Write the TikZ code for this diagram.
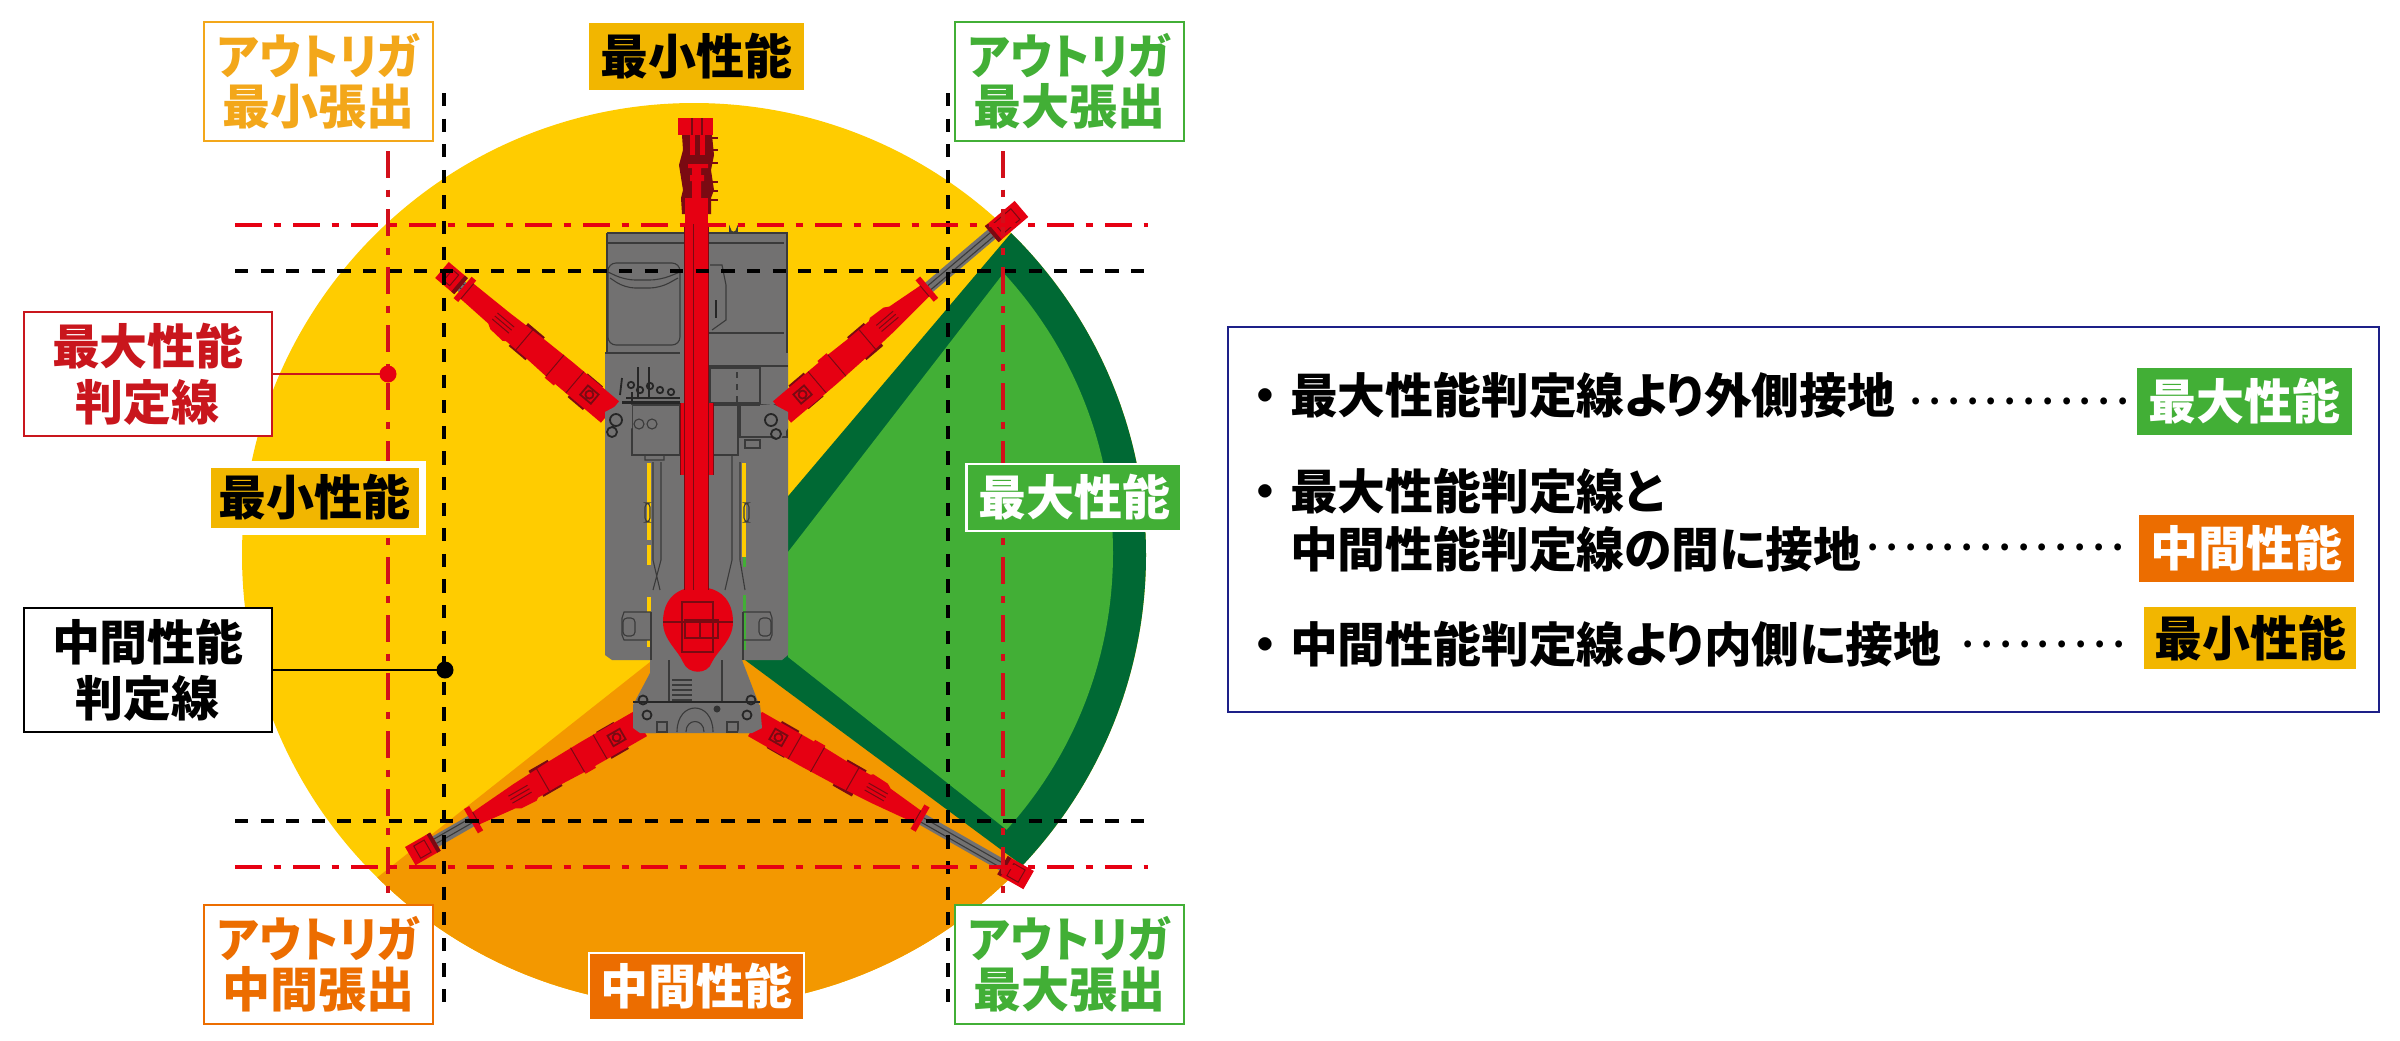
\documentclass[tikz,border=0pt]{standalone}
\usepackage{fontspec}
\setmainfont{Noto Sans CJK JP}[RawFeature={+palt}]
\definecolor{cyel}{HTML}{FFCC00}
\definecolor{corg}{HTML}{F39800}
\definecolor{cdg}{HTML}{006934}
\definecolor{clg}{HTML}{42AF36}
\definecolor{cred}{HTML}{E60012}
\definecolor{cgry}{HTML}{727171}
\definecolor{cdet}{HTML}{3A3A3A}
\definecolor{cdrd}{HTML}{7A0A12}
\definecolor{bdgy}{HTML}{F2B600}
\definecolor{bdgo}{HTML}{EC6D00}
\definecolor{lyel}{HTML}{F3A71A}
\definecolor{lred}{HTML}{C9161D}
\definecolor{cnav}{HTML}{1D2088}
\tikzset{
 big/.style={font=\fontsize{24}{25}\selectfont\bfseries,inner sep=0pt,outer sep=0pt,align=center},
 lbox/.style={big,draw=#1,text=#1,line width=1.4pt,fill=white,minimum width=114.5pt,minimum height=59.5pt},
 tagbox/.style={big,font=\fontsize{24}{28}\selectfont\bfseries,draw=#1,text=#1,line width=1.4pt,fill=white,minimum width=124pt,minimum height=62pt},
 badge/.style n args={2}{big,fill=#1,text=#2,minimum width=107.5pt,minimum height=33.5pt},
 body/.style={font=\fontsize{23.9}{25}\selectfont\bfseries,inner sep=0pt,outer sep=0pt,anchor=base west},
 leaders/.style={font=\fontsize{16}{16}\selectfont\bfseries,inner sep=0pt,outer sep=0pt,anchor=base west},
 blk/.style={black,line width=1.75pt,dash pattern=on 6.6pt off 6.2pt},
 rdl/.style={cred,line width=1.8pt,dash pattern=on 13.3pt off 6pt on 3.7pt off 6pt},
 rdv/.style={rdl,draw=lred!70!cred},
 det/.style={cdet,line width=.55pt},
 rdt/.style={cdrd,line width=.5pt},
 detk/.style={black!85,line width=.9pt},
 dotm/.style={circle,fill=#1,inner sep=0pt,outer sep=0pt,minimum size=8.5pt},
}
\newcommand\kn[1]{\scalebox{.93}[1]{#1}}
\newcommand\lds[1]{\foreach \i in {1,...,#1}{\hbox to 9.4pt{\hss.\hss}}}
% outrigger: base x, base y, angle, collar position, grey end, total length, half width at collar
\newcommand\outr[7]{%
\begin{scope}[shift={(#1,#2)},rotate=#3]
 \fill[cgry] (#4-4,-6)--(#5+4,-6)--(#5+4,6)--(#4-4,6)--cycle;
 \draw[det] (#4,-2)--(#5,-2) (#4,3)--(#5,3);
 % dark fittings under the red body
 \fill[cdrd] (22,-16)--(42,-16)--(42,15)--(22,15)--cycle;
 \fill[cdrd] (98,-15)--(120,-15)--(120,15)--(98,15)--cycle;
 % red body
 \fill[cred] (0,-14)--(60,-14)--(60,-16)--(72,-16)--(72,-14)--(100,-13)--(125,-13)--(128,-15)--(145,-14)--(150,-11)--(#4-6,-#7)--(#4-6,-14)--(#4,-14)--(#4,14)--(#4-6,14)--(#4-6,#7)--(140,11)--(100,13)--(60,14)--(0,14)--cycle;
 \draw[rdt] (46,-14)--(46,14) (72,-14)--(72,14) (112,-13)--(112,13) (#4-6,-#7)--(#4-6,#7);
 \draw[rdt] (128,-5)--(150,-5) (128,-1)--(150,-1) (128,3)--(150,3);
 \draw[cdrd,line width=.9pt] (20,-6) rectangle (34,6) (27,0) circle[radius=4];
 % head
 \fill[cred] (#5,-10.5)--(#6,-10.5)--(#6,10.5)--(#5,10.5)--cycle;
 \fill[cdrd] (#5,-10.5) rectangle (#5+4,10.5);
 \draw[rdt] (#5+9,-7) rectangle (#6-8,7);
\end{scope}}
\begin{document}
\begin{tikzpicture}[x=.5pt,y=-.5pt]
\useasboundingbox (0,0) rectangle (2400,1040);
\fill[white] (0,0) rectangle (2400,1040);
% performance zones
\fill[cyel] (694,555) circle[radius=452];
\begin{scope}
 \clip (650,662)--(250,978)--(250,1040)--(1100,1040)--(1100,923)--(745,660)--cycle;
 \fill[corg] (694,555) circle[radius=452];
\end{scope}
\begin{scope}
 \clip (1051,186)--(745,547)--(745,660)--(1100,923)--(1200,923)--(1200,186)--cycle;
 \fill[cdg] (694,555) circle[radius=452];
\end{scope}
\begin{scope}
 \clip (1040,226)--(788,552)--(788,657)--(1050,864)--(1200,864)--(1200,226)--cycle;
 \fill[clg] (700,553) circle[radius=413];
\end{scope}
% machine body
\fill[cgry] (607,233)--(787,233)--(787,353)--(788,353)--(788,655)--(782,660)--(742,660)--(760,707)--(762,728)--(752,733)--(640,733)--(633,728)--(633,705)--(650,673)--(650,660)--(612,660)--(605,655)--(605,353)--(607,353)--cycle;
\draw[det,line width=.8pt] (607,233)--(787,233)--(787,353);
\draw[det] (607,233)--(607,353) (607,243)--(784,243) (605,353)--(680,353) (708,333)--(784,333) (708,366)--(788,366);
\draw[det,rounded corners=4pt] (608,263) rectangle (680,345);
\draw[det,rounded corners=5pt] (608,272)--(625,280)--(660,280)--(680,272);
\draw[det,rounded corners=5pt] (610,278)--(625,288)--(660,288)--(678,278);
\draw[det] (710,368) rectangle (760,403);
\draw[det,dashed] (737,372)--(737,403);
\draw[det] (632,405) rectangle (680,455) (708,405) rectangle (738,455) (740,405) rectangle (787,437);
\draw[det] (710,265)--(722,265)--(726,285)--(726,320)--(712,330);
\draw[detk] (716,300)--(716,318);
% levers
\draw[detk] (638,367)--(638,397) (649,367)--(649,397) (620,395)--(622,378) (632,392)--(632,402);
\foreach \a/\b in {631/385,640/390,650/386,660/390,671/392}{\draw[detk] (\a,\b) circle[radius=3.2];}
\draw[detk,line width=1.5pt] (622,402)--(680,402);
\draw[detk,line width=1.2pt] (626,398)--(680,398);
% columns and window strips
\fill[cyel] (647,463) rectangle (651,540);
\fill[cyel] (647,545) rectangle (651,565);
\fill[cyel] (647,597) rectangle (651,612);
\fill[cyel] (647,640) rectangle (651,647);
\fill[cyel] (742,463) rectangle (746,557);
\fill[clg] (743,557) rectangle (746,567);
\fill[clg] (743,595) rectangle (746,650);
\draw[det] (645,455)--(645,460)--(664,460)--(664,455) (653,462)--(653,560)--(660,590) (661,462)--(661,560)--(653,590);
\draw[det] (732,455)--(732,560)--(725,590) (740,462)--(740,560)--(745,590);
\draw[det,rounded corners=2pt] (645,503) rectangle (650,522) (744,503) rectangle (749,522);
% side lugs
\draw[det] (651,612)--(624,612)--(622,618)--(622,635)--(624,640)--(651,640);
\draw[det] (743,612)--(770,612)--(772,618)--(772,635)--(770,640)--(743,640);
\draw[det,rounded corners=2pt] (623,618) rectangle (635,636) (759,618) rectangle (771,636);
\draw[det] (651,612)--(651,660) (743,612)--(743,660);
% lower frame
\draw[det] (669,660)--(669,702) (722,660)--(722,702);
\draw[detk] (633,702)--(760,702);
\fill[black!80] (717,709) circle[radius=3.5];
\draw[det] (677,732) .. controls (677,700) and (713,700) .. (713,732);
\draw[det] (686,732) .. controls (686,718) and (704,718) .. (704,732);
\draw[det] (657,722) rectangle (667,732) (727,722) rectangle (738,732);
\foreach \a in {680,685,690,695,700}{\draw[det] (672,\a)--(692,\a);}
% outriggers
\outr{610}{412}{139.8}{193}{195}{220}{10}
\outr{782}{412}{40.3}{193}{275}{314}{7}
\outr{640}{724}{209.9}{195}{236}{265}{7}
\outr{755}{724}{-29.7}{193}{285}{315}{7}
% outrigger brackets on top
\fill[cgry] (605,412)--(620,404)--(632,405)--(632,428)--(612,440)--(605,428)--cycle;
\fill[cgry] (788,412)--(773,404)--(760,405)--(760,428)--(780,440)--(788,428)--cycle;
\fill[cgry] (633,705)--(650,705)--(656,733)--(640,733)--(633,728)--cycle;
\fill[cgry] (760,705)--(745,705)--(738,733)--(752,733)--(762,728)--cycle;
\draw[detk] (616,420) circle[radius=6] (612,432) circle[radius=5];
\draw[detk] (771,420) circle[radius=6] (776,434) circle[radius=5];
\draw[det] (639,424) circle[radius=5] (652,424) circle[radius=5];
\draw[det] (745,440) rectangle (760,448);
\foreach \a/\b in {647/715,747/715,643/700,751/700}{\draw[detk] (\a,\b) circle[radius=4.5];}
% boom
\fill[cred] (680,403) rectangle (713,475);
\draw[rdt] (680,403)--(680,475) (713,403)--(713,475);
\fill[cred] (698,587) .. controls (720,587) and (733,600) .. (733,622) .. controls (733,640) and (718,650) .. (712,662) .. controls (708,675) and (688,675) .. (683,662) .. controls (678,650) and (663,640) .. (663,622) .. controls (663,600) and (676,587) .. (698,587) -- cycle;
\fill[cred] (684,223) rectangle (708,600);
\draw[rdt] (684,223)--(684,590) (708,223)--(708,590) (693,223)--(693,590);
\draw[rdt,line width=.8pt] (682,602) rectangle (713,652) (685,620) rectangle (718,638) (700,620)--(700,638) (663,622)--(733,622);
% boom head
\fill[cdrd] (682,135)--(712,135)--(714,155)--(711,170)--(714,190)--(711,198)--(711,214)--(682,214)--(681,198)--(683,190)--(679,165)--(683,150)--cycle;
\fill[cred] (678,118)--(713,118)--(713,135)--(678,135)--cycle;
\fill[cred] (685,198)--(708,198)--(708,224)--(685,224)--cycle;
\foreach \a/\b in {690/135,700/135}{\fill[cred] (\a,\b) rectangle (\a+5,155);}
\fill[cred] (688,164) rectangle (708,168) (690,175) rectangle (704,181) (692,168) rectangle (701,198);
\draw[rdt,line width=1pt] (692,118)--(692,135) (702,118)--(702,135);
\foreach \a in {138,150,163,182,191,200}{\draw[cdrd,line width=1.1pt] (708,\a)--(718,\a);}
% hook ring
\draw[det,line width=.8pt] (730,232) -- (730,229) arc[start angle=180,end angle=0,radius=3.5] -- (737,232);
% reference lines
\coordinate (bvla) at (444,93); \coordinate (bvlb) at (444,1003);
\coordinate (bvra) at (948,93); \coordinate (bvrb) at (948,1003);
\coordinate (bhta) at (235,271); \coordinate (bhtb) at (1148,271);
\coordinate (bhba) at (235,821); \coordinate (bhbb) at (1148,821);
\coordinate (rvla) at (388,151); \coordinate (rvlb) at (388,903);
\coordinate (rvra) at (1003,151); \coordinate (rvrb) at (1003,903);
\coordinate (rhta) at (235,225); \coordinate (rhtb) at (1148,225);
\coordinate (rhba) at (235,867); \coordinate (rhbb) at (1148,867);
\draw[blk] (bvla)--(bvlb);
\draw[blk] (bvra)--(bvrb);
\draw[blk] (bhta)--(bhtb);
\draw[blk] (bhba)--(bhbb);
\draw[rdv] (rvla)--(rvlb);
\draw[rdv] (rvra)--(rvrb);
\draw[rdl] (rhta)--(rhtb);
\draw[rdl] (rhba)--(rhbb);
% outrigger labels
\node[lbox=lyel] (tl) at (318.5,81.5) {\kn{アウトリガ}\\最小張出};
\node[lbox=clg] (tr) at (1069.5,81.5) {\kn{アウトリガ}\\最大張出};
\node[lbox=bdgo] (bl) at (318.5,964.5) {\kn{アウトリガ}\\中間張出};
\node[lbox=clg] (br) at (1069.5,964.5) {\kn{アウトリガ}\\最大張出};
% performance badges
\node[badge={bdgy}{black}] (mintop) at (696.5,56.5) {最小性能};
\node[badge={bdgo}{white},draw=white,line width=1pt] (midbot) at (696.5,986.5) {中間性能};
\node[badge={bdgy}{black},draw=white,line width=3.5pt] (minleft) at (314.5,497.5) {最小性能};
\node[badge={clg}{white},draw=white,line width=1.2pt] (maxright) at (1074,497.5) {最大性能};
% judgement line tags
\node[tagbox=lred] (redtag) at (148,374) {最大性能\\判定線};
\node[tagbox=black] (blacktag) at (148,670) {中間性能\\判定線};
\node[dotm=cred] (reddot) at (388,374) {};
\node[dotm=black] (blackdot) at (445,670) {};
\draw[lred,line width=1.3pt] (redtag)--(reddot);
\draw[black,line width=1.3pt] (blacktag)--(blackdot);
% legend
\node[draw=cnav,line width=1.3pt,fill=white,inner sep=0pt,outer sep=0pt,minimum width=575.5pt,minimum height=192.5pt] (legend) at (1803.5,519.5) {};
\node[body] (l1b) at (1253,413) {・};
\node[body] (l1) at (1290,413) {最大性能判定線より外側接地};
\node[leaders] (l1d) at (1907,404) {\lds{12}};
\node[badge={clg}{white}] (b1) at (2244.5,401.5) {最大性能};
\node[body] (l2b) at (1253,509) {・};
\node[body] (l2) at (1290,509) {最大性能判定線と};
\node[body] (l3) at (1290,567) {中間性能判定線の間に接地};
\node[leaders] (l3d) at (1864,550) {\lds{14}};
\node[badge={bdgo}{white}] (b2) at (2246,548.5) {中間性能};
\node[body] (l4b) at (1253,662) {・};
\node[body] (l4) at (1290,662) {中間性能判定線より内側に接地};
\node[leaders] (l4d) at (1959,647) {\lds{9}};
\node[badge={bdgy}{black},minimum width=106pt,minimum height=31pt] (b3) at (2250,638) {最小性能};
\end{tikzpicture}
\end{document}
